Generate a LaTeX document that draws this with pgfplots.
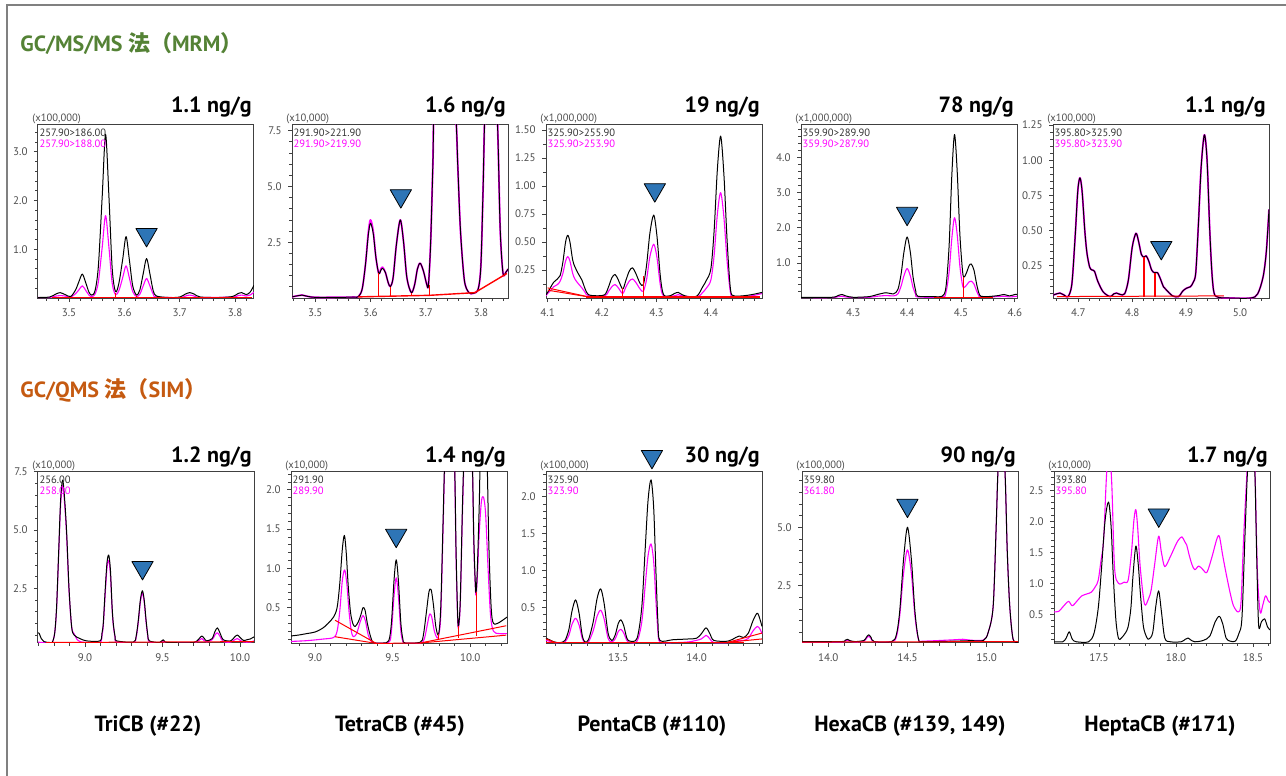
\documentclass[border=0pt]{standalone}
\usepackage{fontspec}
\setmainfont{PT Sans}
\newfontfamily\cjk{Noto Sans CJK JP}
\usepackage{pgfplots}
\pgfplotsset{compat=1.18}
\definecolor{mgreen}{RGB}{84,130,53}
\definecolor{morange}{RGB}{197,90,17}
\definecolor{tri}{RGB}{46,117,182}
\definecolor{mag}{RGB}{255,0,255}
\definecolor{axisgray}{RGB}{64,64,64}
\definecolor{ticklab}{RGB}{77,77,77}
\definecolor{legblack}{RGB}{51,51,51}
\definecolor{framegray}{RGB}{128,128,128}
\pgfplotsset{
  chrom/.style={scale only axis, width=108pt, height=87pt, anchor=north west,
    clip mode=individual,
    axis line style={draw=axisgray, line width=0.5pt},
    tick align=outside, tick pos=left,
    major tick length=2pt, minor tick length=1.3pt,
    every tick/.style={draw=axisgray, line width=0.4pt},
    ticklabel style={font=\fontsize{5.5}{6}\selectfont, text=ticklab},
    xticklabel style={yshift=0.3pt}, yticklabel style={xshift=0.3pt},
    every axis plot/.append style={line join=round}},
  magline/.style={mag, line width=0.55pt, smooth, tension=0.5},
  blkline/.style={black, line width=0.5pt, smooth, tension=0.5},
  redline/.style={red, line width=0.5pt},
  tri/.style={only marks, mark=triangle*, mark size=6.15pt, mark options={rotate=180, fill=tri, draw=none}},
}
\newcommand{\scal}[1]{\node[anchor=base west, inner sep=0pt, font=\fontsize{5.3}{5.3}\selectfont, text=ticklab, xshift=-3pt, yshift=1.5pt] at (rel axis cs:0,1) {#1};}
\newcommand{\leg}[2]{\node[anchor=north west, inner sep=0pt, align=left, font=\fontsize{5.3}{5.4}\selectfont, xshift=0.6pt, yshift=-2.3pt] at (rel axis cs:0,1) {\textcolor{legblack}{#1}\\\textcolor{mag}{#2}};}
\newcommand{\conc}[3]{\node[anchor=base east, inner sep=0pt, font=\fontsize{11}{12}\selectfont\bfseries] at (#1pt,#2pt) {#3};}
\newcommand{\cb}[2]{\node[anchor=base, inner sep=0pt, font=\fontsize{11}{12}\selectfont\bfseries] at (#1pt,-365.5pt) {#2};}
\begin{document}
\begin{tikzpicture}
\useasboundingbox (0,0) rectangle (643pt,-388pt);
\draw[framegray, line width=1pt] (3.5pt,-400pt) -- (3.5pt,-2.5pt) -- (660pt,-2.5pt);
\node[anchor=base west, inner sep=0pt, text=mgreen, font=\fontsize{11}{12}\selectfont\bfseries] at (10pt,-25.5pt) {GC/MS/MS {\cjk\bfseries 法（}MRM{\cjk\bfseries ）}};
\node[anchor=base west, inner sep=0pt, text=morange, font=\fontsize{11}{12}\selectfont\bfseries] at (10pt,-198.5pt) {GC/QMS {\cjk\bfseries 法（}SIM{\cjk\bfseries ）}};
\conc{126}{-56}{1.1 ng/g}
\conc{253}{-56}{1.6 ng/g}
\conc{380}{-56}{19 ng/g}
\conc{507}{-56}{78 ng/g}
\conc{633}{-56}{1.1 ng/g}
\conc{126}{-231}{1.2 ng/g}
\conc{253}{-231}{1.4 ng/g}
\conc{380}{-231}{30 ng/g}
\conc{508}{-231}{90 ng/g}
\conc{634}{-231}{1.7 ng/g}
\cb{74}{TriCB (\#22)}
\cb{200}{TetraCB (\#45)}
\cb{326}{PentaCB (\#110)}
\cb{455}{HexaCB (\#139, 149)}
\cb{580}{HeptaCB (\#171)}

% ---------- P1
\begin{axis}[chrom, at={(19pt,-62pt)},
 xmin=3.444, xmax=3.834, ymin=0, ymax=3.57,
 xtick={3.5,3.6,3.7,3.8}, xticklabels={3.5,3.6,3.7,3.8}, minor xtick={3.46,3.48,...,3.83},
 ytick={1,2,3}, yticklabels={1.0,2.0,3.0}, minor ytick={0.2,0.4,...,3.5}]
\addplot[magline] coordinates {(3.444,0.01)(3.465,0.01)(3.476,0.04)(3.484,0.05)(3.493,0.04)(3.503,0.02)(3.512,0.09)(3.518,0.17)(3.524,0.25)(3.530,0.16)(3.536,0.06)(3.541,0.03)(3.547,0.08)(3.553,0.33)(3.560,1.05)(3.566,1.69)(3.572,1.05)(3.578,0.3)(3.584,0.07)(3.590,0.15)(3.597,0.42)(3.603,0.66)(3.609,0.41)(3.615,0.13)(3.622,0.03)(3.628,0.08)(3.634,0.25)(3.640,0.40)(3.646,0.25)(3.652,0.08)(3.658,0.02)(3.70,0.01)(3.71,0.04)(3.718,0.06)(3.726,0.04)(3.737,0.01)(3.795,0.02)(3.805,0.05)(3.812,0.06)(3.82,0.04)(3.827,0.06)(3.834,0.12)};
\addplot[blkline] coordinates {(3.444,0.01)(3.465,0.02)(3.476,0.08)(3.484,0.11)(3.493,0.07)(3.503,0.03)(3.512,0.17)(3.518,0.34)(3.524,0.49)(3.530,0.32)(3.536,0.12)(3.541,0.06)(3.547,0.15)(3.553,0.65)(3.560,2.1)(3.566,3.36)(3.572,2.1)(3.578,0.6)(3.584,0.13)(3.590,0.3)(3.597,0.8)(3.603,1.26)(3.609,0.78)(3.615,0.25)(3.622,0.06)(3.628,0.17)(3.634,0.5)(3.640,0.81)(3.646,0.5)(3.652,0.15)(3.658,0.04)(3.68,0.01)(3.70,0.02)(3.71,0.08)(3.718,0.11)(3.726,0.08)(3.737,0.02)(3.77,0.01)(3.795,0.03)(3.805,0.09)(3.812,0.11)(3.82,0.07)(3.827,0.12)(3.834,0.26)};
\addplot[redline] coordinates {(3.47,0.01)(3.83,0.01)};
\addplot[redline] coordinates {(3.584,0.0)(3.584,0.1)};
\addplot[redline] coordinates {(3.622,0.0)(3.622,0.05)};
\addplot[tri] coordinates {(3.64,1.30)};
\scal{(x100,000)}
\leg{257.90>186.00}{257.90>188.00}
\end{axis}

% ---------- P2
\begin{axis}[chrom, at={(146pt,-62pt)},
 xmin=3.458, xmax=3.849, ymin=0, ymax=7.8,
 xtick={3.5,3.6,3.7,3.8}, xticklabels={3.5,3.6,3.7,3.8}, minor xtick={3.46,3.48,...,3.85},
 ytick={2.5,5,7.5}, yticklabels={2.5,5.0,7.5}, minor ytick={0.5,1,...,7.6}]
\addplot[magline, line width=0.9pt] coordinates {(3.458,0.05)(3.468,0.1)(3.476,0.13)(3.485,0.08)(3.50,0.03)(3.54,0.03)(3.57,0.04)(3.578,0.06)(3.585,0.4)(3.591,1.5)(3.596,2.9)(3.600,3.5)(3.605,3.0)(3.610,1.8)(3.615,1.1)(3.619,1.3)(3.622,1.38)(3.627,1.15)(3.632,0.7)(3.636,0.51)(3.641,0.9)(3.647,2.4)(3.654,3.5)(3.660,2.5)(3.666,0.9)(3.674,0.24)(3.680,0.6)(3.685,1.3)(3.690,1.56)(3.696,1.2)(3.702,0.6)(3.705,0.58)(3.709,2.5)(3.713,6.0)(3.716,9)(3.73,12)(3.745,12)(3.755,8)(3.758,6)(3.763,3)(3.770,0.8)(3.778,0.25)(3.786,0.21)(3.795,0.4)(3.800,1.5)(3.804,5)(3.808,9)(3.818,12)(3.828,9)(3.831,7)(3.835,3)(3.840,1.1)(3.845,1.15)(3.849,1.3)};
\addplot[blkline] coordinates {(3.458,0.05)(3.468,0.1)(3.476,0.13)(3.485,0.08)(3.50,0.03)(3.54,0.03)(3.57,0.04)(3.578,0.06)(3.585,0.4)(3.591,1.5)(3.596,2.8)(3.600,3.35)(3.605,2.9)(3.610,1.8)(3.615,1.1)(3.619,1.25)(3.622,1.33)(3.627,1.15)(3.632,0.7)(3.636,0.51)(3.641,0.9)(3.647,2.4)(3.654,3.5)(3.660,2.5)(3.666,0.9)(3.674,0.24)(3.680,0.6)(3.685,1.3)(3.690,1.56)(3.696,1.2)(3.702,0.6)(3.705,0.58)(3.709,2.5)(3.713,6.0)(3.716,9)(3.73,12)(3.745,12)(3.755,8)(3.758,6)(3.763,3)(3.770,0.8)(3.778,0.25)(3.786,0.21)(3.795,0.4)(3.800,1.5)(3.804,5)(3.808,9)(3.818,12)(3.828,9)(3.831,7)(3.835,3)(3.840,1.1)(3.845,1.15)(3.849,1.3)};
\addplot[redline, line width=0.7pt] coordinates {(3.578,0.05)(3.707,0.12)(3.789,0.24)(3.847,1.1)};
\addplot[redline, line width=0.7pt] coordinates {(3.615,0.08)(3.615,1.1)};
\addplot[redline, line width=0.7pt] coordinates {(3.636,0.09)(3.636,0.5)};
\addplot[redline, line width=0.7pt] coordinates {(3.674,0.1)(3.674,0.24)};
\addplot[redline, line width=0.7pt] coordinates {(3.707,0.12)(3.707,0.6)};
\addplot[tri] coordinates {(3.655,4.58)};
\scal{(x10,000)}
\leg{291.90>221.90}{291.90>219.90}
\end{axis}

% ---------- P3
\begin{axis}[chrom, at={(273pt,-62pt)},
 xmin=4.097, xmax=4.494, ymin=0, ymax=1.553,
 xtick={4.1,4.2,4.3,4.4}, xticklabels={4.1,4.2,4.3,4.4}, minor xtick={4.12,4.14,...,4.49},
 ytick={0.25,0.5,0.75,1,1.25,1.5}, yticklabels={0.25,0.50,0.75,1.00,1.25,1.50}, minor ytick={0.125,0.25,...,1.55}]
\addplot[magline] coordinates {(4.097,0.02)(4.100,0.04)(4.106,0.07)(4.111,0.10)(4.118,0.12)(4.123,0.15)(4.128,0.22)(4.133,0.33)(4.137,0.37)(4.141,0.33)(4.146,0.22)(4.150,0.17)(4.156,0.13)(4.163,0.09)(4.169,0.05)(4.175,0.02)(4.205,0.02)(4.212,0.06)(4.218,0.10)(4.224,0.12)(4.230,0.09)(4.238,0.04)(4.244,0.10)(4.250,0.15)(4.256,0.17)(4.262,0.14)(4.270,0.08)(4.276,0.06)(4.282,0.17)(4.288,0.37)(4.295,0.48)(4.301,0.36)(4.307,0.12)(4.313,0.02)(4.333,0.02)(4.340,0.03)(4.347,0.02)(4.375,0.01)(4.385,0.05)(4.392,0.09)(4.400,0.16)(4.406,0.38)(4.412,0.75)(4.418,0.94)(4.424,0.72)(4.430,0.32)(4.436,0.05)(4.442,0.01)(4.475,0.02)(4.494,0.04)};
\addplot[blkline] coordinates {(4.097,0.03)(4.100,0.05)(4.106,0.10)(4.111,0.14)(4.118,0.17)(4.123,0.20)(4.128,0.32)(4.133,0.50)(4.137,0.56)(4.141,0.50)(4.146,0.34)(4.150,0.28)(4.156,0.22)(4.163,0.16)(4.169,0.08)(4.175,0.03)(4.19,0.02)(4.205,0.03)(4.212,0.10)(4.218,0.18)(4.224,0.21)(4.230,0.16)(4.238,0.08)(4.244,0.16)(4.250,0.24)(4.256,0.27)(4.262,0.22)(4.270,0.13)(4.276,0.12)(4.282,0.30)(4.288,0.58)(4.295,0.74)(4.301,0.55)(4.307,0.20)(4.313,0.03)(4.325,0.02)(4.333,0.04)(4.340,0.05)(4.347,0.03)(4.36,0.01)(4.375,0.02)(4.385,0.10)(4.392,0.16)(4.400,0.26)(4.406,0.60)(4.412,1.15)(4.418,1.445)(4.424,1.1)(4.430,0.5)(4.436,0.08)(4.442,0.02)(4.46,0.02)(4.475,0.03)(4.485,0.04)(4.494,0.05)};
\addplot[redline] coordinates {(4.1,0.09)(4.175,0.01)};
\addplot[redline] coordinates {(4.1,0.07)(4.175,0.01)};
\addplot[redline, line width=0.7pt] coordinates {(4.17,0.01)(4.49,0.01)};
\addplot[redline, line width=0.7pt] coordinates {(4.238,0.005)(4.238,0.09)};
\addplot[redline, line width=0.7pt] coordinates {(4.276,0.005)(4.276,0.2)};
\addplot[tri] coordinates {(4.297,0.965)};
\scal{(x1,000,000)}
\leg{325.90>255.90}{325.90>253.90}
\end{axis}

% ---------- P4
\begin{axis}[chrom, at={(400.5pt,-62pt)},
 xmin=4.203, xmax=4.604, ymin=0, ymax=4.96,
 xtick={4.3,4.4,4.5,4.6}, xticklabels={4.3,4.4,4.5,4.6}, minor xtick={4.22,4.24,...,4.61},
 ytick={1,2,3,4}, yticklabels={1.0,2.0,3.0,4.0}, minor ytick={0.2,0.4,...,4.9}]
\addplot[magline] coordinates {(4.203,0.01)(4.26,0.01)(4.272,0.04)(4.279,0.05)(4.286,0.03)(4.30,0.01)(4.33,0.02)(4.345,0.05)(4.361,0.07)(4.375,0.06)(4.383,0.12)(4.389,0.35)(4.394,0.63)(4.400,0.84)(4.406,0.63)(4.411,0.3)(4.416,0.1)(4.420,0.03)(4.465,0.03)(4.472,0.15)(4.478,0.75)(4.483,1.7)(4.488,2.29)(4.493,1.8)(4.498,0.9)(4.503,0.35)(4.506,0.3)(4.511,0.38)(4.515,0.46)(4.519,0.48)(4.524,0.4)(4.529,0.2)(4.533,0.07)(4.537,0.03)(4.57,0.04)(4.58,0.05)(4.59,0.03)(4.604,0.05)};
\addplot[blkline] coordinates {(4.203,0.02)(4.26,0.02)(4.272,0.07)(4.279,0.10)(4.286,0.06)(4.30,0.02)(4.33,0.04)(4.345,0.10)(4.361,0.15)(4.375,0.12)(4.383,0.25)(4.389,0.7)(4.394,1.3)(4.400,1.74)(4.406,1.3)(4.411,0.6)(4.416,0.2)(4.420,0.05)(4.45,0.04)(4.465,0.05)(4.472,0.3)(4.478,1.5)(4.483,3.5)(4.488,4.66)(4.493,3.6)(4.498,1.8)(4.503,0.75)(4.506,0.6)(4.511,0.75)(4.515,0.92)(4.519,0.97)(4.524,0.8)(4.529,0.4)(4.533,0.15)(4.537,0.05)(4.55,0.04)(4.57,0.07)(4.58,0.1)(4.59,0.06)(4.60,0.1)(4.604,0.1)};
\addplot[redline] coordinates {(4.45,0.02)(4.56,0.02)};
\addplot[redline] coordinates {(4.505,0.02)(4.505,0.6)};
\addplot[tri] coordinates {(4.4,2.41)};
\scal{(x1,000,000)}
\leg{359.90>289.90}{359.90>287.90}
\end{axis}

% ---------- P5
\begin{axis}[chrom, at={(526.5pt,-62pt)},
 xmin=4.653, xmax=5.054, ymin=0.02, ymax=1.257,
 xtick={4.7,4.8,4.9,5.0}, xticklabels={4.7,4.8,4.9,5.0}, minor xtick={4.66,4.68,...,5.05},
 ytick={0.25,0.5,0.75,1,1.25}, yticklabels={0.25,0.50,0.75,1.00,1.25}, minor ytick={0.05,0.1,...,1.26}]
\addplot[magline, line width=0.9pt] coordinates {(4.653,0.04)(4.660,0.05)(4.666,0.055)(4.674,0.04)(4.681,0.03)(4.688,0.12)(4.694,0.45)(4.699,0.78)(4.703,0.874)(4.707,0.78)(4.712,0.5)(4.716,0.34)(4.721,0.24)(4.725,0.22)(4.730,0.21)(4.736,0.14)(4.746,0.064)(4.759,0.03)(4.766,0.05)(4.771,0.055)(4.778,0.045)(4.786,0.05)(4.793,0.15)(4.800,0.38)(4.807,0.48)(4.812,0.42)(4.817,0.33)(4.822,0.31)(4.826,0.32)(4.831,0.28)(4.836,0.22)(4.841,0.2)(4.847,0.20)(4.853,0.15)(4.858,0.1)(4.864,0.075)(4.875,0.035)(4.886,0.03)(4.894,0.07)(4.901,0.09)(4.908,0.1)(4.913,0.13)(4.918,0.2)(4.923,0.55)(4.928,0.95)(4.934,1.18)(4.939,1.0)(4.944,0.5)(4.948,0.2)(4.952,0.055)(4.96,0.025)(4.98,0.02)(5.02,0.02)(5.033,0.05)(5.043,0.17)(5.049,0.35)(5.054,0.65)};
\addplot[blkline] coordinates {(4.653,0.04)(4.660,0.05)(4.666,0.055)(4.674,0.04)(4.681,0.03)(4.688,0.12)(4.694,0.45)(4.699,0.78)(4.703,0.874)(4.707,0.78)(4.712,0.5)(4.716,0.34)(4.721,0.24)(4.725,0.22)(4.730,0.21)(4.736,0.14)(4.746,0.064)(4.759,0.03)(4.766,0.05)(4.771,0.055)(4.778,0.045)(4.786,0.05)(4.793,0.15)(4.800,0.38)(4.807,0.48)(4.812,0.42)(4.817,0.33)(4.822,0.31)(4.826,0.32)(4.831,0.28)(4.836,0.22)(4.841,0.2)(4.847,0.20)(4.853,0.15)(4.858,0.1)(4.864,0.075)(4.875,0.035)(4.886,0.03)(4.894,0.07)(4.901,0.09)(4.908,0.1)(4.913,0.13)(4.918,0.2)(4.923,0.55)(4.928,0.95)(4.934,1.18)(4.939,1.0)(4.944,0.5)(4.948,0.2)(4.952,0.055)(4.96,0.025)(4.98,0.02)(5.02,0.02)(5.033,0.05)(5.043,0.17)(5.049,0.35)(5.054,0.65)};
\addplot[redline] coordinates {(4.66,0.03)(4.97,0.035)};
\addplot[redline, line width=0.8pt] coordinates {(4.822,0.03)(4.822,0.31)};
\addplot[redline, line width=0.8pt] coordinates {(4.842,0.03)(4.842,0.2)};
\addplot[tri] coordinates {(4.854,0.378)};
\scal{(x100,000)}
\leg{395.80>325.90}{395.80>323.90}
\end{axis}

% ---------- P6
\begin{axis}[chrom, at={(19pt,-235.5pt)}, height=86pt,
 xmin=8.697, xmax=10.09, ymin=0.16, ymax=7.53,
 xtick={9,9.5,10}, xticklabels={9.0,9.5,10.0}, minor xtick={8.7,8.8,...,10.09},
 ytick={2.5,5,7.5}, yticklabels={2.5,5.0,7.5}, minor ytick={0.5,1,...,7.5}]
\addplot[magline] coordinates {(8.697,0.2)(8.72,0.18)(8.774,0.17)(8.79,0.2)(8.805,0.6)(8.817,1.65)(8.830,3.9)(8.843,6.1)(8.856,6.9)(8.869,6.1)(8.882,4.7)(8.897,2.4)(8.914,0.85)(8.93,0.55)(8.95,0.3)(8.967,0.22)(9.011,0.18)(9.097,0.18)(9.110,0.5)(9.118,0.9)(9.130,2.2)(9.142,3.4)(9.153,3.7)(9.164,3.1)(9.175,1.6)(9.183,0.9)(9.195,0.35)(9.204,0.2)(9.312,0.17)(9.330,0.4)(9.344,1.05)(9.357,1.9)(9.370,2.30)(9.382,1.9)(9.394,1.05)(9.405,0.45)(9.415,0.2)(9.48,0.17)(9.495,0.22)(9.505,0.25)(9.518,0.18)(9.60,0.16)(9.70,0.17)(9.73,0.25)(9.753,0.35)(9.77,0.25)(9.785,0.2)(9.82,0.3)(9.838,0.5)(9.854,0.6)(9.87,0.45)(9.892,0.22)(9.94,0.2)(9.965,0.3)(9.983,0.35)(10.0,0.28)(10.022,0.2)(10.065,0.2)(10.09,0.25)};
\addplot[blkline] coordinates {(8.697,0.60)(8.705,0.57)(8.718,0.35)(8.735,0.22)(8.774,0.18)(8.79,0.2)(8.805,0.6)(8.817,1.71)(8.830,4.0)(8.843,6.3)(8.856,7.14)(8.869,6.3)(8.882,4.86)(8.897,2.5)(8.914,0.85)(8.93,0.5)(8.967,0.35)(9.011,0.25)(9.097,0.25)(9.110,0.6)(9.118,1.0)(9.130,2.4)(9.142,3.6)(9.153,3.93)(9.164,3.3)(9.175,1.7)(9.183,0.96)(9.195,0.4)(9.204,0.25)(9.312,0.2)(9.330,0.45)(9.344,1.14)(9.357,2.0)(9.370,2.40)(9.382,2.0)(9.394,1.14)(9.405,0.5)(9.415,0.25)(9.48,0.18)(9.495,0.25)(9.505,0.3)(9.518,0.2)(9.55,0.18)(9.60,0.17)(9.70,0.18)(9.73,0.3)(9.753,0.46)(9.77,0.35)(9.785,0.25)(9.82,0.35)(9.838,0.65)(9.854,0.81)(9.87,0.6)(9.892,0.3)(9.94,0.25)(9.965,0.42)(9.983,0.50)(10.0,0.4)(10.022,0.27)(10.045,0.3)(10.065,0.33)(10.09,0.42)};
\addplot[redline] coordinates {(8.75,0.18)(10.09,0.22)};
\addplot[tri] coordinates {(9.371,3.39)};
\scal{(x10,000)}
\leg{256.00}{258.00}
\end{axis}

% ---------- P7
\begin{axis}[chrom, at={(145.5pt,-235.5pt)}, height=86pt,
 xmin=8.845, xmax=10.237, ymin=0.05, ymax=2.24,
 xtick={9,9.5,10}, xticklabels={9.0,9.5,10.0}, minor xtick={8.9,9.0,...,10.23},
 ytick={0.5,1,1.5,2}, yticklabels={0.5,1.0,1.5,2.0}, minor ytick={0.1,0.2,...,2.21}]
\addplot[magline] coordinates {(8.845,0.07)(8.947,0.08)(9.050,0.1)(9.119,0.12)(9.142,0.2)(9.159,0.45)(9.176,0.85)(9.191,0.98)(9.205,0.8)(9.219,0.45)(9.234,0.2)(9.247,0.13)(9.268,0.17)(9.291,0.32)(9.309,0.40)(9.325,0.33)(9.343,0.15)(9.366,0.06)(9.387,0.05)(9.475,0.06)(9.492,0.2)(9.509,0.65)(9.523,0.88)(9.537,0.65)(9.553,0.2)(9.566,0.07)(9.580,0.05)(9.678,0.05)(9.704,0.1)(9.725,0.3)(9.739,0.42)(9.752,0.38)(9.769,0.2)(9.785,0.12)(9.796,0.14)(9.810,0.4)(9.825,1.5)(9.839,2.5)(9.865,3.3)(9.896,2.5)(9.909,1.1)(9.919,0.35)(9.925,0.25)(9.936,0.55)(9.950,1.7)(9.963,2.5)(9.987,3.2)(10.011,2.5)(10.023,1.3)(10.033,0.75)(10.038,0.66)(10.046,0.9)(10.058,1.45)(10.072,1.85)(10.085,1.91)(10.099,1.7)(10.115,1.0)(10.131,0.4)(10.150,0.2)(10.186,0.17)(10.237,0.17)};
\addplot[blkline] coordinates {(8.845,0.14)(8.889,0.15)(8.947,0.17)(9.000,0.19)(9.050,0.24)(9.084,0.3)(9.119,0.38)(9.142,0.5)(9.159,0.8)(9.176,1.25)(9.189,1.42)(9.201,1.2)(9.213,0.8)(9.228,0.45)(9.243,0.3)(9.258,0.26)(9.279,0.32)(9.297,0.42)(9.309,0.5)(9.322,0.47)(9.337,0.3)(9.355,0.15)(9.371,0.06)(9.387,0.05)(9.440,0.05)(9.475,0.08)(9.492,0.3)(9.509,0.85)(9.523,1.11)(9.537,0.85)(9.553,0.3)(9.566,0.1)(9.580,0.05)(9.678,0.06)(9.698,0.15)(9.718,0.45)(9.734,0.7)(9.748,0.73)(9.762,0.55)(9.779,0.25)(9.796,0.16)(9.810,0.5)(9.825,1.6)(9.839,2.6)(9.865,3.4)(9.896,2.6)(9.909,1.2)(9.919,0.4)(9.925,0.27)(9.936,0.6)(9.950,1.8)(9.963,2.6)(9.987,3.3)(10.011,2.6)(10.023,1.4)(10.033,0.8)(10.038,0.70)(10.046,1.0)(10.058,1.8)(10.066,2.5)(10.085,3.2)(10.107,2.5)(10.120,1.3)(10.135,0.5)(10.150,0.3)(10.186,0.31)(10.209,0.34)(10.237,0.38)};
\addplot[redline] coordinates {(9.129,0.34)(9.394,0.045)};
\addplot[redline] coordinates {(9.129,0.13)(9.394,0.045)};
\addplot[redline] coordinates {(9.394,0.045)(9.678,0.05)};
\addplot[redline] coordinates {(9.678,0.05)(10.232,0.27)};
\addplot[redline] coordinates {(9.678,0.05)(10.232,0.15)};
\addplot[redline] coordinates {(9.796,0.1)(9.796,0.16)};
\addplot[redline] coordinates {(9.925,0.12)(9.925,0.27)};
\addplot[redline] coordinates {(10.038,0.14)(10.038,0.70)};
\addplot[tri] coordinates {(9.523,1.42)};
\scal{(x10,000)}
\leg{291.90}{289.90}
\end{axis}

% ---------- P8
\begin{axis}[chrom, at={(273pt,-235.5pt)}, height=86pt, clip=false,
 xmin=13.039, xmax=14.417, ymin=0.015, ymax=2.35,
 xtick={13.5,14}, xticklabels={13.5,14.0}, minor xtick={13.1,13.2,...,14.41},
 ytick={0.5,1,1.5,2}, yticklabels={0.5,1.0,1.5,2.0}, minor ytick={0.1,0.2,...,2.31}]
\addplot[magline] coordinates {(13.039,0.05)(13.06,0.04)(13.09,0.02)(13.128,0.02)(13.16,0.03)(13.185,0.12)(13.205,0.27)(13.228,0.35)(13.250,0.26)(13.270,0.08)(13.287,0.02)(13.31,0.03)(13.34,0.18)(13.365,0.38)(13.388,0.46)(13.410,0.34)(13.435,0.08)(13.458,0.03)(13.480,0.07)(13.500,0.17)(13.517,0.20)(13.535,0.15)(13.555,0.05)(13.575,0.02)(13.62,0.04)(13.65,0.3)(13.672,0.8)(13.690,1.2)(13.709,1.36)(13.726,1.12)(13.740,0.6)(13.753,0.18)(13.766,0.03)(13.85,0.02)(13.95,0.03)(14.03,0.07)(14.060,0.12)(14.085,0.07)(14.11,0.02)(14.20,0.02)(14.25,0.04)(14.272,0.05)(14.30,0.05)(14.33,0.08)(14.36,0.18)(14.387,0.24)(14.405,0.2)(14.417,0.14)};
\addplot[blkline] coordinates {(13.039,0.08)(13.06,0.06)(13.09,0.03)(13.128,0.02)(13.16,0.05)(13.185,0.2)(13.205,0.45)(13.228,0.60)(13.250,0.42)(13.270,0.12)(13.287,0.03)(13.31,0.06)(13.34,0.3)(13.365,0.62)(13.388,0.75)(13.410,0.55)(13.435,0.15)(13.458,0.05)(13.480,0.12)(13.500,0.28)(13.517,0.33)(13.535,0.25)(13.555,0.08)(13.575,0.04)(13.62,0.08)(13.65,0.5)(13.672,1.3)(13.690,1.95)(13.709,2.23)(13.726,1.85)(13.740,1.0)(13.753,0.3)(13.766,0.05)(13.85,0.06)(13.95,0.07)(14.0,0.08)(14.03,0.14)(14.060,0.22)(14.085,0.14)(14.11,0.05)(14.20,0.04)(14.25,0.09)(14.272,0.11)(14.30,0.09)(14.33,0.15)(14.36,0.32)(14.387,0.42)(14.405,0.33)(14.417,0.24)};
\addplot[redline] coordinates {(13.04,0.025)(14.3,0.025)};
\addplot[redline] coordinates {(14.2,0.025)(14.417,0.15)};
\addplot[redline] coordinates {(14.2,0.025)(14.417,0.07)};
\addplot[redline] coordinates {(13.04,0.07)(13.1,0.02)};
\addplot[tri] coordinates {(13.715,2.546)};
\scal{(x100,000)}
\leg{325.90}{323.90}
\end{axis}

% ---------- P9
\begin{axis}[chrom, at={(401pt,-235.5pt)}, height=86pt,
 xmin=13.834, xmax=15.198, ymin=0.04, ymax=7.41,
 xtick={14,14.5,15}, xticklabels={14.0,14.5,15.0}, minor xtick={13.9,14.0,...,15.19},
 ytick={2.5,5}, yticklabels={2.5,5.0}, minor ytick={0.5,1,...,7.4}]
\addplot[magline] coordinates {(13.834,0.08)(14.08,0.08)(14.105,0.12)(14.121,0.16)(14.137,0.12)(14.17,0.08)(14.225,0.12)(14.242,0.25)(14.256,0.33)(14.270,0.23)(14.29,0.09)(14.40,0.1)(14.43,0.3)(14.451,1.2)(14.475,3.0)(14.5,4.03)(14.525,3.0)(14.547,1.2)(14.57,0.18)(14.60,0.12)(14.80,0.18)(14.85,0.2)(14.90,0.16)(14.98,0.17)(15.01,0.5)(15.041,1.6)(15.06,5)(15.072,7.5)(15.09,9)(15.115,7.5)(15.13,4)(15.146,1.6)(15.167,0.2)(15.198,0.1)};
\addplot[blkline] coordinates {(13.834,0.1)(14.08,0.1)(14.105,0.15)(14.121,0.2)(14.137,0.14)(14.17,0.1)(14.225,0.15)(14.242,0.3)(14.256,0.39)(14.270,0.28)(14.29,0.1)(14.40,0.1)(14.43,0.4)(14.451,1.4)(14.475,3.6)(14.5,5.0)(14.525,3.6)(14.547,1.4)(14.57,0.2)(14.60,0.1)(14.80,0.12)(14.90,0.14)(14.98,0.15)(15.01,0.5)(15.041,1.6)(15.06,5)(15.072,7.5)(15.09,9)(15.115,7.5)(15.13,4)(15.146,1.6)(15.167,0.2)(15.198,0.08)};
\addplot[redline] coordinates {(13.834,0.08)(15.198,0.1)};
\addplot[tri] coordinates {(14.5,5.94)};
\scal{(x100,000)}
\leg{359.80}{361.80}
\end{axis}

% ---------- P10
\begin{axis}[chrom, at={(527pt,-235.5pt)}, height=86pt,
 xmin=17.208, xmax=18.61, ymin=0.04, ymax=2.81,
 xtick={17.5,18,18.5}, xticklabels={17.5,18.0,18.5}, minor xtick={17.3,17.4,...,18.61},
 ytick={0.5,1,1.5,2,2.5}, yticklabels={0.5,1.0,1.5,2.0,2.5}, minor ytick={0.1,0.2,...,2.8}]
\addplot[magline] coordinates {(17.208,0.54)(17.239,0.55)(17.265,0.62)(17.302,0.71)(17.327,0.64)(17.362,0.73)(17.389,0.80)(17.421,0.83)(17.451,0.86)(17.477,0.95)(17.495,1.05)(17.512,1.35)(17.530,1.7)(17.548,2.7)(17.565,3.2)(17.583,2.6)(17.601,1.25)(17.627,1.0)(17.663,1.02)(17.689,1.05)(17.711,1.5)(17.726,2.0)(17.739,2.19)(17.751,1.9)(17.768,1.25)(17.795,0.67)(17.821,0.75)(17.839,0.9)(17.861,1.3)(17.887,1.76)(17.905,1.5)(17.927,1.27)(17.963,1.43)(17.998,1.62)(18.016,1.7)(18.038,1.75)(18.055,1.68)(18.069,1.62)(18.086,1.45)(18.104,1.3)(18.122,1.22)(18.148,1.28)(18.175,1.22)(18.201,1.18)(18.236,1.45)(18.263,1.7)(18.281,1.76)(18.303,1.45)(18.325,1.16)(18.351,0.85)(18.373,0.64)(18.404,0.54)(18.422,0.7)(18.440,1.8)(18.466,3)(18.488,3.5)(18.510,3)(18.528,1.2)(18.546,0.54)(18.563,0.65)(18.581,0.8)(18.598,0.72)(18.610,0.69)};
\addplot[blkline] coordinates {(17.208,0.06)(17.265,0.06)(17.287,0.12)(17.307,0.22)(17.327,0.1)(17.353,0.06)(17.433,0.06)(17.468,0.2)(17.495,0.6)(17.514,1.16)(17.539,2.0)(17.562,2.31)(17.579,1.9)(17.592,1.16)(17.610,0.4)(17.627,0.11)(17.645,0.12)(17.671,0.2)(17.689,0.3)(17.707,0.6)(17.720,1.1)(17.739,1.6)(17.755,1.3)(17.768,0.86)(17.786,0.35)(17.800,0.19)(17.821,0.1)(17.848,0.2)(17.867,0.6)(17.887,0.88)(17.905,0.55)(17.927,0.12)(17.963,0.06)(18.033,0.06)(18.060,0.1)(18.078,0.12)(18.095,0.09)(18.122,0.06)(18.175,0.08)(18.219,0.15)(18.254,0.38)(18.281,0.47)(18.303,0.35)(18.325,0.12)(18.351,0.07)(18.385,0.07)(18.409,0.2)(18.428,0.45)(18.448,1.8)(18.466,2.9)(18.488,3.3)(18.510,2.9)(18.523,1.5)(18.536,0.33)(18.554,0.38)(18.575,0.43)(18.594,0.3)(18.610,0.25)};
\addplot[tri] coordinates {(17.888,2.10)};
\scal{(x10,000)}
\leg{393.80}{395.80}
\end{axis}
\end{tikzpicture}
\end{document}
